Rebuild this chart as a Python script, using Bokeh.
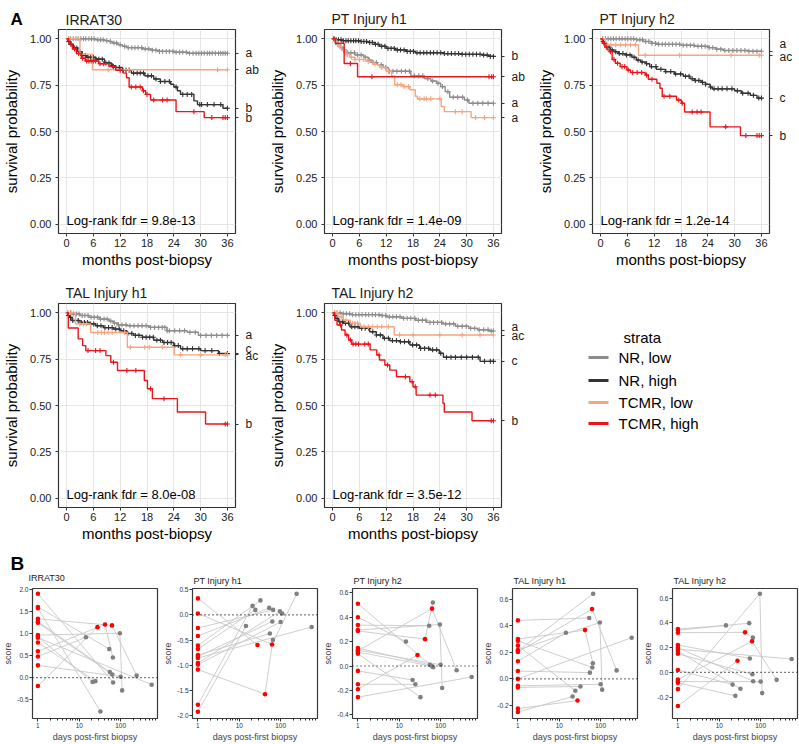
import math
from bokeh.plotting import figure
from bokeh.layouts import column, row
from bokeh.models import Range1d, FixedTicker, PrintfTickFormatter, LinearAxis, Label, Span
from bokeh.embed import file_html
from bokeh.resources import INLINE
from bokeh.core.properties import value

FONT = "Liberation Sans"
STRATA = ["NR, low", "NR, high", "TCMR, low", "TCMR, high"]
COLORS = ["#8c8c8c", "#333333", "#f4a582", "#e8161c"]
X_TICKS = [0, 6, 12, 18, 24, 30, 36]
Y_TICKS = [0.0, 0.25, 0.5, 0.75, 1.0]

# ---------------- Panel A: Kaplan-Meier data (step times t, survival s, censor times c)
IRRAT30_NR_LOW = dict(
    t=[6.5, 8.5, 9.5, 10.2, 11.5, 12.5, 13.5, 17.0, 19.0, 20.5, 24.0, 27.0],
    s=[0.995, 0.99, 0.985, 0.977, 0.968, 0.96, 0.952, 0.945, 0.938, 0.932, 0.927, 0.922],
    c=[0.4, 0.9, 1.5, 2.1, 2.6, 3.2, 3.8, 4.3, 5.0, 5.6, 6.2, 7.0, 7.6, 8.2, 9.0, 9.8, 10.6, 11.2, 12.0,
       13.0, 13.8, 14.6, 15.3, 16.0, 16.8, 17.6, 18.4, 19.2, 20.0, 20.8, 21.5, 22.3, 23.0, 23.8, 24.5,
       25.3, 26.0, 26.8, 27.5, 28.3, 29.0, 29.6, 30.2, 30.8, 31.5, 32.0, 32.6, 33.3, 34.0, 34.5, 35.0,
       35.5, 36.0])
IRRAT30_NR_HIGH = dict(
    t=[0.3, 0.8, 1.5, 2.5, 3.5, 4.5, 6.5, 8.5, 10.0, 11.0, 12.5, 14.5, 17.5, 19.5, 21.0, 23.3, 24.0,
       24.8, 25.5, 28.5, 29.3, 35.0],
    s=[0.985, 0.97, 0.95, 0.93, 0.91, 0.90, 0.89, 0.87, 0.855, 0.845, 0.83, 0.815, 0.80, 0.783, 0.77,
       0.755, 0.74, 0.72, 0.70, 0.665, 0.645, 0.625],
    c=[0.5, 1.0, 1.8, 2.3, 3.0, 3.6, 4.2, 4.8, 5.4, 6.0, 6.6, 7.2, 8.0, 8.8, 9.5, 10.3, 11.0, 11.8, 12.6,
       13.3, 14.0, 15.0, 15.8, 16.5, 17.2, 18.2, 19.0, 20.0, 21.0, 22.0, 23.0, 24.5, 26.0, 27.0, 28.0,
       29.8, 30.2, 31.5, 33.0, 34.5, 36.0])
IRRAT30_TCMR_LOW = dict(t=[3.0, 5.8], s=[0.917, 0.833], c=[0.5, 9.3, 13.9, 33.8, 36.0])
IRRAT30_TCMR_HIGH = dict(
    t=[0.5, 1.3, 2.2, 3.3, 4.2, 7.2, 9.5, 11.0, 12.7, 13.4, 14.0, 17.0, 17.7, 18.8, 24.5, 30.8],
    s=[0.972, 0.945, 0.92, 0.895, 0.88, 0.865, 0.85, 0.83, 0.815, 0.79, 0.74, 0.72, 0.70, 0.67, 0.607, 0.575],
    c=[1.0, 1.8, 2.7, 3.6, 4.5, 5.0, 5.5, 6.0, 6.5, 7.5, 8.3, 10.5, 12.0, 14.5, 15.5, 16.5, 17.2, 18.0,
       19.5, 21.5, 22.5, 28.5, 32.5, 35.0, 35.5, 36.0])

PTH1_NR_LOW = dict(
    t=[0.5, 1.0, 1.7, 2.2, 3.0, 5.0, 7.0, 8.0, 9.0, 10.0, 11.3, 12.5, 17.5, 20.5, 22.0, 23.3, 24.2, 25.2,
       26.2, 29.5, 30.5],
    s=[0.985, 0.97, 0.955, 0.94, 0.925, 0.913, 0.90, 0.885, 0.872, 0.86, 0.845, 0.825, 0.80, 0.785,
       0.772, 0.76, 0.742, 0.715, 0.685, 0.67, 0.652],
    c=[0.4, 1.1, 1.9, 2.6, 3.4, 4.1, 4.9, 5.6, 6.4, 7.3, 8.2, 9.0, 9.8, 10.9, 11.9, 12.7, 13.5, 14.4,
       15.4, 16.3, 17.2, 18.3, 19.3, 20.2, 21.3, 22.4, 23.6, 24.6, 25.8, 27.0, 28.0, 29.1, 30.2, 31.4,
       32.5, 33.6, 34.8, 36.0])
PTH1_NR_HIGH = dict(
    t=[0.5, 2.0, 6.0, 8.0, 9.5, 10.5, 12.0, 14.0, 16.5, 18.5, 25.0, 29.0, 33.5, 35.0],
    s=[0.995, 0.99, 0.985, 0.98, 0.97, 0.96, 0.948, 0.94, 0.932, 0.925, 0.92, 0.916, 0.912, 0.905],
    c=[0.3, 0.8, 1.3, 1.9, 2.4, 3.0, 3.5, 4.1, 4.7, 5.2, 5.8, 6.4, 7.0, 7.6, 8.3, 8.9, 9.6, 10.2, 11.0,
       11.7, 12.4, 13.1, 13.8, 14.5, 15.2, 16.0, 16.7, 17.4, 18.1, 18.9, 19.6, 20.4, 21.1, 21.9, 22.6,
       23.4, 24.2, 25.0, 25.8, 26.6, 27.4, 28.2, 29.0, 29.8, 30.6, 31.4, 32.2, 33.0, 33.8, 34.6, 35.3, 36.0])
PTH1_TCMR_LOW = dict(
    t=[0.5, 1.2, 2.0, 2.8, 3.8, 5.0, 7.5, 9.0, 10.5, 12.0, 13.2, 13.9, 15.8, 17.3, 18.5, 19.0, 24.3, 25.0, 31.0],
    s=[0.985, 0.96, 0.94, 0.915, 0.90, 0.888, 0.878, 0.862, 0.845, 0.825, 0.80, 0.752, 0.742, 0.725,
       0.69, 0.676, 0.635, 0.607, 0.575],
    c=[0.8, 1.6, 2.5, 3.3, 4.2, 5.0, 6.0, 7.0, 8.0, 9.5, 11.0, 12.5, 14.5, 15.3, 16.0, 17.0, 19.5, 20.5,
       21.0, 22.0, 24.0, 27.5, 29.0, 32.0, 34.0, 36.0])
PTH1_TCMR_HIGH = dict(t=[0.6, 2.6, 5.6], s=[0.976, 0.867, 0.795], c=[4.0, 8.8, 35.0, 35.6, 36.0])

PTH2_NR_LOW = dict(
    t=[8.0, 9.5, 11.5, 13.0, 18.0, 21.0, 24.3, 25.8, 27.5, 33.0],
    s=[0.995, 0.985, 0.975, 0.97, 0.965, 0.96, 0.952, 0.944, 0.937, 0.933],
    c=[0.5, 1.1, 1.7, 2.3, 2.9, 3.5, 4.2, 4.8, 5.5, 6.1, 6.8, 7.4, 8.1, 8.8, 9.4, 10.1, 10.8, 11.5, 12.3,
       13.0, 13.8, 14.5, 15.3, 16.1, 16.9, 17.7, 18.5, 19.3, 20.1, 20.9, 21.8, 22.6, 23.4, 24.3, 25.1,
       26.0, 26.9, 27.8, 28.7, 29.6, 30.5, 31.4, 32.3, 33.2, 34.1, 35.0, 36.0])
PTH2_NR_HIGH = dict(
    t=[0.5, 0.9, 1.5, 2.2, 3.0, 4.0, 5.5, 7.0, 8.0, 9.0, 10.2, 11.0, 12.5, 14.5, 16.5, 18.5, 20.0, 21.0,
       22.5, 23.5, 24.5, 25.0, 30.0, 31.5, 33.5, 35.0],
    s=[0.985, 0.97, 0.955, 0.94, 0.93, 0.92, 0.913, 0.90, 0.885, 0.875, 0.865, 0.85, 0.835, 0.823, 0.81,
       0.798, 0.785, 0.775, 0.765, 0.755, 0.74, 0.73, 0.72, 0.706, 0.695, 0.68],
    c=[0.6, 1.2, 1.9, 2.6, 3.4, 4.2, 5.0, 5.8, 6.6, 7.5, 8.4, 9.3, 10.3, 11.4, 12.4, 13.5, 14.6, 15.7,
       16.8, 17.9, 19.0, 19.8, 20.5, 21.2, 22.0, 22.8, 23.5, 24.6, 25.4, 26.3, 27.2, 28.3, 29.4, 30.6,
       31.8, 33.0, 34.2, 35.4, 36.0])
PTH2_TCMR_LOW = dict(t=[1.1, 8.5], s=[0.967, 0.911],
                     c=[1.5, 2.3, 3.4, 4.5, 5.6, 6.7, 7.8, 10.0, 17.7, 29.2, 35.5, 36.0])
PTH2_TCMR_HIGH = dict(
    t=[0.4, 1.0, 1.5, 2.0, 2.6, 3.3, 4.4, 5.9, 6.7, 10.0, 10.7, 12.6, 13.3, 13.8, 17.0, 18.1, 18.8, 24.5, 31.3],
    s=[0.975, 0.955, 0.94, 0.93, 0.888, 0.868, 0.85, 0.832, 0.818, 0.805, 0.782, 0.76, 0.733, 0.69,
       0.67, 0.652, 0.605, 0.525, 0.478],
    c=[0.8, 1.3, 2.2, 3.0, 3.8, 4.8, 5.4, 6.2, 7.2, 8.2, 9.2, 10.3, 11.5, 14.2, 15.5, 17.5, 18.3, 20.5,
       21.6, 22.5, 28.0, 32.5, 35.0, 35.5, 36.0])

TALH1_NR_LOW = dict(
    t=[1.0, 3.0, 5.0, 7.5, 9.5, 10.5, 11.5, 13.5, 18.5, 22.5, 27.0, 29.5],
    s=[0.993, 0.985, 0.976, 0.966, 0.955, 0.945, 0.935, 0.93, 0.921, 0.903, 0.895, 0.878],
    c=[0.3, 0.9, 1.5, 2.2, 2.8, 3.5, 4.1, 4.8, 5.5, 6.2, 6.9, 7.6, 8.4, 9.1, 9.9, 10.7, 11.6, 12.4, 13.3,
       14.2, 15.1, 16.0, 16.9, 17.8, 18.8, 19.7, 20.6, 21.4, 22.0, 22.5, 23.0, 24.2, 25.3, 26.4, 27.6,
       28.8, 30.0, 31.2, 32.4, 33.6, 34.8, 36.0])
TALH1_NR_HIGH = dict(
    t=[0.3, 0.6, 1.2, 3.0, 5.0, 6.5, 8.3, 10.5, 12.0, 13.5, 15.0, 17.0, 19.5, 21.5, 24.0, 25.5, 30.0, 34.0],
    s=[0.985, 0.975, 0.958, 0.948, 0.94, 0.93, 0.92, 0.912, 0.903, 0.888, 0.878, 0.868, 0.852, 0.84,
       0.823, 0.806, 0.796, 0.78],
    c=[0.4, 0.9, 1.4, 2.0, 2.6, 3.3, 4.0, 4.7, 5.4, 6.1, 6.9, 7.7, 8.6, 9.4, 10.2, 11.0, 11.8, 12.8,
       13.7, 14.6, 15.4, 16.2, 17.0, 17.8, 18.6, 19.4, 20.2, 21.0, 21.8, 22.6, 23.4, 24.2, 25.0, 26.0,
       27.0, 28.2, 29.6, 31.0, 32.5, 34.2, 36.0])
TALH1_TCMR_LOW = dict(t=[2.0, 5.4, 13.6, 24.1], s=[0.94, 0.894, 0.814, 0.773],
                      c=[1.0, 3.0, 3.8, 4.5, 7.0, 7.8, 8.5, 9.3, 10.2, 13.0, 14.3, 17.5, 18.5, 21.5,
                         25.5, 30.0, 35.5, 36.0])
TALH1_TCMR_HIGH = dict(
    t=[0.4, 2.6, 3.6, 4.3, 8.8, 9.9, 11.4, 17.4, 18.1, 19.2, 24.8, 31.1],
    s=[0.918, 0.859, 0.823, 0.796, 0.769, 0.733, 0.689, 0.635, 0.59, 0.537, 0.465, 0.40],
    c=[4.8, 6.5, 7.5, 10.5, 13.5, 15.5, 18.8, 21.8, 35.5, 36.0])

TALH2_NR_LOW = dict(
    t=[2.0, 4.0, 10.5, 12.0, 15.5, 18.5, 21.0, 24.5, 27.5, 30.5, 32.5, 35.0],
    s=[0.995, 0.99, 0.985, 0.978, 0.97, 0.96, 0.948, 0.94, 0.927, 0.916, 0.908, 0.902],
    c=[0.4, 1.0, 1.7, 2.4, 3.1, 3.8, 4.5, 5.2, 5.9, 6.6, 7.4, 8.1, 8.9, 9.6, 10.4, 11.1, 11.9, 12.7,
       13.5, 14.3, 15.1, 15.9, 16.7, 17.5, 18.4, 19.2, 20.1, 20.9, 21.8, 22.6, 23.5, 24.4, 25.3, 26.2,
       27.1, 28.0, 29.0, 29.9, 30.9, 31.8, 32.8, 33.8, 34.8, 35.5, 36.0])
TALH2_NR_HIGH = dict(
    t=[0.3, 0.6, 1.3, 2.4, 3.9, 6.0, 8.3, 9.8, 11.3, 12.8, 15.0, 17.3, 19.5, 21.7, 23.9, 24.8, 33.0],
    s=[0.985, 0.97, 0.952, 0.943, 0.925, 0.916, 0.898, 0.88, 0.862, 0.85, 0.844, 0.826, 0.808, 0.80,
       0.782, 0.76, 0.738],
    c=[0.5, 1.0, 1.6, 2.2, 2.9, 3.6, 4.3, 5.0, 5.7, 6.5, 7.3, 8.1, 9.0, 9.8, 10.7, 11.6, 12.5, 13.4,
       14.3, 15.2, 16.1, 17.0, 17.9, 18.8, 19.7, 20.6, 21.5, 22.4, 23.3, 24.2, 25.5, 26.5, 27.5, 28.8,
       30.0, 31.3, 32.6, 34.0, 35.3, 36.0])
TALH2_TCMR_LOW = dict(t=[1.3, 2.4, 4.0, 6.2, 13.8], s=[0.978, 0.96, 0.943, 0.925, 0.88],
                      c=[0.5, 2.0, 3.0, 4.5, 5.0, 5.6, 7.0, 8.0, 9.0, 10.0, 11.0, 12.5, 15.0, 18.0,
                         24.0, 29.0, 33.0, 36.0])
TALH2_TCMR_HIGH = dict(
    t=[0.5, 1.0, 2.0, 2.8, 3.6, 4.3, 8.4, 9.9, 10.5, 11.7, 12.8, 14.3, 17.3, 18.0, 18.7, 24.7, 25.0, 31.2],
    s=[0.96, 0.934, 0.907, 0.88, 0.853, 0.831, 0.80, 0.772, 0.745, 0.718, 0.691, 0.655, 0.628, 0.601,
       0.556, 0.512, 0.465, 0.418],
    c=[1.8, 3.2, 4.0, 4.6, 5.2, 5.8, 7.2, 8.0, 10.4, 12.3, 16.3, 17.8, 18.5, 21.8, 23.0, 35.5, 36.0])

# letters: (letter, final survival, vertical nudge of the label in px)
IRRAT30_LETTERS = [("a", 0.922, 0), ("ab", 0.833, 0), ("b", 0.625, 0), ("b", 0.575, 0)]
PTH1_LETTERS = [("b", 0.905, 0), ("ab", 0.795, 0), ("a", 0.652, 0), ("a", 0.575, 0)]
PTH2_LETTERS = [("a", 0.933, 7), ("ac", 0.911, -1.5), ("c", 0.68, 0), ("b", 0.478, 0)]
TALH1_LETTERS = [("a", 0.878, 0), ("c", 0.78, 4.5), ("ac", 0.773, -1), ("b", 0.40, 0)]
TALH2_LETTERS = [("a", 0.902, 4.3), ("ac", 0.88, -0.7), ("c", 0.738, 0), ("b", 0.418, 0)]
FDR = ["9.8e-13", "1.4e-09", "1.2e-14", "8.0e-08", "3.5e-12"]

# ---------------- Panel B: paired biopsies (days, TCMR flag) shared, scores per panel
PATH_DAYS = [[1, 66], [1, 53], [1, 32.5], [1, 62, 244], [1, 55], [1, 63], [1, 96, 109], [1, 21],
             [1, 100], [1, 24.5], [1, 42, 65], [1, 14.5], [1, 564], [1, 27.6]]
PATH_TCMR = [[1, 0], [1, 0], [1, 0], [1, 1, 0], [1, 0], [1, 0], [1, 0, 0], [1, 0],
             [1, 0], [1, 0], [1, 1, 0], [1, 0], [1, 0], [1, 1]]
B_IRRAT30 = [[1.91, -0.11], [1.61, 0.65], [1.58, -0.77], [1.34, 1.19, 0.05], [1.28, 0.13], [1.25, 0.07],
             [0.97, 1.01, -0.29], [0.93, -0.10], [0.28, 0.02], [0.80, -0.08], [0.60, 1.21, 0.46],
             [0.48, 0.92], [0.91, -0.16], [-0.19, 1.15]]
B_PTH1 = [[-0.26, 0.10], [-0.42, 0.14], [-0.61, 0.29], [0.03, -0.59, 0.42], [-0.80, -0.37], [-0.83, -0.13],
          [-0.96, 0.07, 0.03], [-1.79, 0.18], [-0.99, -0.14], [-0.68, 0.10], [-1.09, -1.58, -0.50],
          [-1.93, -0.22], [-0.86, -0.24], [0.33, -0.60]]
B_PTH2 = [[0.51, -0.01], [0.335, 0.33], [0.10, -0.255], [0.125, 0.47, -0.035], [0.147, 0.01], [0.115, -0.003],
          [0.295, 0.34, -0.18], [-0.04, -0.115], [0.131, 0.01], [-0.15, -0.15], [0.287, 0.22, 0.52],
          [0.40, 0.20], [-0.255, -0.09], [-0.19, 0.09]]
B_TALH1 = [[0.21, 0.64], [0.44, 0.458], [-0.064, -0.057], [0.202, 0.525, 0.064], [0.059, 0.047], [0.286, 0.086],
           [0.217, 0.424, -0.081], [-0.249, -0.133], [-0.052, -0.04], [0.25, -0.089], [0.30, 0.367, 0.118],
           [0.133, 0.347], [0.0, 0.31], [-0.224, -0.163]]
B_TALH2 = [[0.20, -0.072], [0.34, 0.397], [0.17, -0.133], [-0.059, 0.25, -0.061], [0.22, 0.112], [0.15, -0.016],
           [-0.136, 0.635, -0.168], [0.019, -0.099], [-0.075, -0.075], [-0.085, -0.19], [0.32, 0.323, 0.28],
           [0.35, 0.379], [0.187, 0.107], [-0.272, 0.093]]
B_TITLES = ["IRRAT30", "PT Injury h1", "PT Injury h2", "TAL Injury h1", "TAL Injury h2"]
B_YRANGES = [(-0.93, 2.03), (-2.065, 0.527), (-0.43, 0.635), (-0.298, 0.68), (-0.373, 0.677)]
B_YTICKS = [[-0.5, 0.0, 0.5, 1.0, 1.5, 2.0], [-2.0, -1.5, -1.0, -0.5, 0.0, 0.5],
            [-0.4, -0.2, 0.0, 0.2, 0.4, 0.6], [-0.2, 0.0, 0.2, 0.4, 0.6], [-0.2, 0.0, 0.2, 0.4, 0.6]]
B_XTICKS = [1, 10, 100]
B_XMINOR = [2, 3, 4, 5, 6, 7, 8, 9, 20, 30, 40, 50, 60, 70, 80, 90, 200, 300, 400, 500, 600, 700]

XMIN, XMAX = -1.8, 37.8
YMIN, YMAX = -0.05, 1.05
TITLE_COLOR = "#1a1a1a"


def km_path(t, s, tmax=36.0):
    xs, ys, cur = [0.0], [1.0], 1.0
    for ti, si in zip(t, s):
        xs += [ti, ti]
        ys += [cur, si]
        cur = si
    xs.append(tmax)
    ys.append(cur)
    return xs, ys


def surv_at(t, s, c):
    cur = 1.0
    for ti, si in zip(t, s):
        if ti <= c:
            cur = si
    return cur


def blank(w, h):
    """A figure without axes whose data units are canvas pixels (y downwards)."""
    f = figure(width=w, height=h, x_range=Range1d(0, w), y_range=Range1d(h, 0),
               output_backend="svg", toolbar_location=None, min_border=0,
               x_axis_location=None, y_axis_location=None, frame_align=False)
    f.outline_line_color = None
    f.grid.visible = False
    return f


def km_panel(title, curves, letters, fdr, w, h, bl, br, bt, bb):
    p = figure(width=w, height=h, x_range=Range1d(XMIN, XMAX), y_range=Range1d(YMIN, YMAX),
               output_backend="svg", toolbar_location=None, frame_align=False,
               min_border_left=bl, min_border_right=br, min_border_top=bt, min_border_bottom=bb)
    fh = h - bt - bb
    if title:
        p.title.text = title
        p.title.text_font = FONT
        p.title.text_font_size = "14px"
        p.title.text_font_style = "normal"
        p.title.text_color = TITLE_COLOR
        p.title.offset = 7
        p.title.standoff = 5
    p.outline_line_color = "#333333"
    p.outline_line_width = 1.2
    p.xaxis.ticker = FixedTicker(ticks=X_TICKS)
    p.yaxis.ticker = FixedTicker(ticks=Y_TICKS)
    p.yaxis.formatter = PrintfTickFormatter(format="%.2f")
    for ax in (p.xaxis, p.yaxis):
        ax.axis_line_color = None
        ax.major_tick_out = 3
        ax.major_tick_in = 0
        ax.minor_tick_line_color = None
        ax.major_tick_line_color = "#333333"
        ax.major_label_text_font = FONT
        ax.major_label_text_font_size = "11px"
        ax.major_label_text_color = "#1a1a1a"
        ax.axis_label_text_font = FONT
        ax.axis_label_text_font_size = "15px"
        ax.axis_label_text_font_style = "normal"
        ax.axis_label_text_color = "#000000"
    p.xaxis.axis_label = "months post-biopsy"
    p.yaxis.axis_label = "survival probability"
    p.xaxis.major_label_standoff = 2
    p.xaxis.axis_label_standoff = 1
    p.yaxis.major_label_standoff = 4
    p.yaxis.axis_label_standoff = 7
    p.grid.grid_line_color = "#e5e5e5"
    p.grid.grid_line_width = 1

    for cv, col in zip(curves, COLORS):
        xs, ys = km_path(cv["t"], cv["s"])
        p.line(xs, ys, line_color=col, line_width=1.4)
        cy = [surv_at(cv["t"], cv["s"], c) for c in cv["c"]]
        p.scatter(cv["c"], cy, marker="cross", size=5, line_color=col, line_width=1.1)

    # right axis: short ticks (minor) at each curve's end, letters (major labels) next to them
    ypp = (YMAX - YMIN) / fh
    lab_pos = [round(v + dy * ypp, 5) for _, v, dy in letters]
    ra = LinearAxis(ticker=FixedTicker(ticks=lab_pos, minor_ticks=[v for _, v, _ in letters]),
                    major_label_overrides={pos: txt for pos, (txt, _, _) in zip(lab_pos, letters)},
                    axis_line_color=None, major_tick_out=0, major_tick_in=0,
                    minor_tick_out=3, minor_tick_in=0, minor_tick_line_color="#333333",
                    major_tick_line_color=None, major_label_standoff=7,
                    major_label_text_font=FONT, major_label_text_font_size="12px",
                    major_label_text_color="#1a1a1a")
    p.add_layout(ra, "right")
    p.add_layout(Label(x=0.0, y=0.02, text="Log-rank fdr = " + fdr, text_font=FONT,
                       text_font_size="13px", text_baseline="middle", text_align="left",
                       text_color="#000000"))
    return p


# first panel: the strip above it holds the panel letter "A" and its title
stripA = blank(266, 28)
stripA.text(x=[10], y=[18.5], text=["A"], text_font=value(FONT), text_font_size="17px",
            text_font_style="bold", text_baseline="middle", text_color="#000000")
stripA.text(x=[65], y=[19], text=["IRRAT30"], text_font=value(FONT), text_font_size="14px",
            text_baseline="middle", text_color=TITLE_COLOR)
a1 = km_panel(None, [IRRAT30_NR_LOW, IRRAT30_NR_HIGH, IRRAT30_TCMR_LOW, IRRAT30_TCMR_HIGH],
              IRRAT30_LETTERS, FDR[0], 266, 242, 58, 31, 1, 37)
a2 = km_panel("PT Injury h1", [PTH1_NR_LOW, PTH1_NR_HIGH, PTH1_TCMR_LOW, PTH1_TCMR_HIGH],
              PTH1_LETTERS, FDR[1], 266, 270, 58, 31, 29, 37)
a3 = km_panel("PT Injury h2", [PTH2_NR_LOW, PTH2_NR_HIGH, PTH2_TCMR_LOW, PTH2_TCMR_HIGH],
              PTH2_LETTERS, FDR[2], 267, 270, 60, 30, 29, 37)
a4 = km_panel("TAL Injury h1", [TALH1_NR_LOW, TALH1_NR_HIGH, TALH1_TCMR_LOW, TALH1_TCMR_HIGH],
              TALH1_LETTERS, FDR[3], 266, 280, 58, 31, 33, 43)
a5 = km_panel("TAL Injury h2", [TALH2_NR_LOW, TALH2_NR_HIGH, TALH2_TCMR_LOW, TALH2_TCMR_HIGH],
              TALH2_LETTERS, FDR[4], 266, 280, 58, 31, 33, 43)

# legend figure
leg = blank(267, 280)
LEG_Y = [87, 110, 132, 153]
leg.segment(x0=[56] * 4, y0=LEG_Y, x1=[76] * 4, y1=LEG_Y, line_color=COLORS, line_width=3)
leg.text(x=[86] * 4, y=LEG_Y, text=STRATA, text_font=value(FONT), text_font_size="15px",
         text_baseline="middle", text_color="#000000")
leg.text(x=[91], y=[67], text=["strata"], text_font=value(FONT), text_font_size="15px",
         text_baseline="middle", text_color="#000000")

# panel B
BX0, BX1 = 0.74, 780.0


def b_panel(title, scores, yr, yt, w, h=194, bt=38):
    bl, br, bb = 27, w - 157, 24
    p = figure(width=w, height=h, x_axis_type="log", x_range=Range1d(BX0, BX1),
               y_range=Range1d(*yr), output_backend="svg", toolbar_location=None, frame_align=False,
               min_border_left=bl, min_border_right=br, min_border_top=bt, min_border_bottom=bb)
    if title:
        p.title.text = title
        p.title.text_font = FONT
        p.title.text_font_size = "9px"
        p.title.text_font_style = "normal"
        p.title.text_color = TITLE_COLOR
        p.title.offset = 1
        p.title.standoff = 5
    p.outline_line_color = "#3a3a3a"
    p.outline_line_width = 1.2
    p.grid.visible = False
    p.xaxis.ticker = FixedTicker(ticks=B_XTICKS, minor_ticks=B_XMINOR)
    p.xaxis.formatter = PrintfTickFormatter(format="%d")
    p.yaxis.ticker = FixedTicker(ticks=yt)
    p.yaxis.formatter = PrintfTickFormatter(format="%.1f")
    for ax in (p.xaxis, p.yaxis):
        ax.axis_line_color = None
        ax.major_tick_out = 3
        ax.major_tick_in = 0
        ax.minor_tick_out = 2
        ax.minor_tick_in = 0
        ax.major_tick_line_color = "#333333"
        ax.minor_tick_line_color = "#333333"
        ax.major_label_text_font = FONT
        ax.major_label_text_font_size = "6.5px"
        ax.major_label_text_color = "#333333"
        ax.major_label_standoff = 1
        ax.axis_label_text_font = FONT
        ax.axis_label_text_font_size = "9px"
        ax.axis_label_text_font_style = "normal"
        ax.axis_label_standoff = 1
    p.xaxis.axis_label = "days post-first biopsy"
    p.yaxis.axis_label = "score"
    p.add_layout(Span(location=0, dimension="width", line_color="#000000", line_width=1.2,
                      line_dash="1 3"))
    p.multi_line(xs=PATH_DAYS, ys=scores, line_color="#c8c8c8", line_width=0.9)
    gx, gy, rx, ry = [], [], [], []
    for d, sc, fl in zip(PATH_DAYS, scores, PATH_TCMR):
        for di, si, fi in zip(d, sc, fl):
            if fi:
                rx.append(di); ry.append(si)
            else:
                gx.append(di); gy.append(si)
    p.scatter(gx, gy, size=4.6, fill_color="#808080", line_color=None)
    p.scatter(rx, ry, size=4.6, fill_color="#ff0000", line_color=None)
    return p


b_scores = [B_IRRAT30, B_PTH1, B_PTH2, B_TALH1, B_TALH2]
# first panel of B: the strip above it holds the panel letter "B" and its title
stripB = blank(160, 34)
stripB.text(x=[10], y=[13], text=["B"], text_font=value(FONT), text_font_size="19px",
            text_font_style="bold", text_baseline="middle", text_color="#000000")
stripB.text(x=[28], y=[27.5], text=[B_TITLES[0]], text_font=value(FONT), text_font_size="9px",
            text_baseline="middle", text_color=TITLE_COLOR)
b1 = b_panel(None, b_scores[0], B_YRANGES[0], B_YTICKS[0], 160, h=160, bt=4)
bfigs = [column(stripB, b1)]
for i in range(1, 5):
    bfigs.append(b_panel(B_TITLES[i], b_scores[i], B_YRANGES[i], B_YTICKS[i], 160 if i < 4 else 159))

layout = column(row(column(stripA, a1), a2, a3), row(a4, a5, leg), row(*bfigs))
open("out.html", "w").write(file_html(layout, INLINE))
